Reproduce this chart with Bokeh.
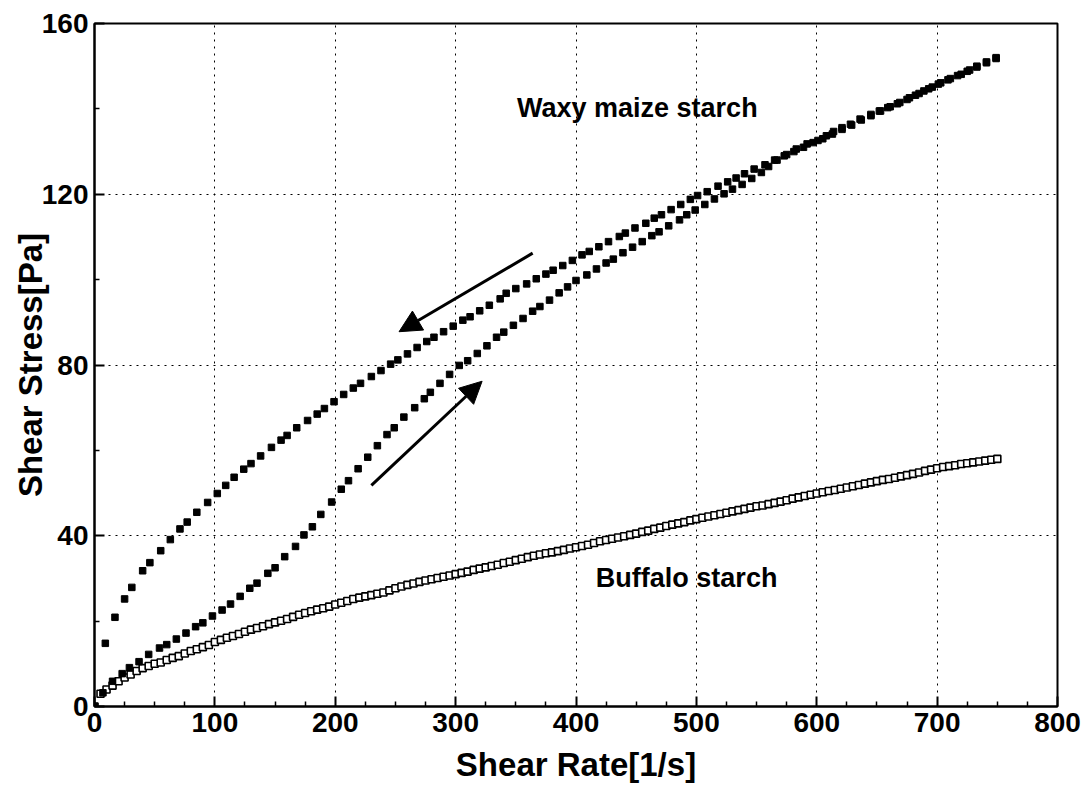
from bokeh.plotting import figure
from bokeh.models import Range1d, Arrow, NormalHead, Label, FixedTicker, ColumnDataSource
from bokeh.embed import file_html
from bokeh.resources import INLINE

FONT = "Liberation Sans"

# ---- data ----
buffalo_rate = [0, 5, 10, 15, 20, 25, 30, 35, 40, 45, 50, 55, 60, 65, 70, 75, 80, 85, 90, 95,
                100, 105, 110, 115, 120, 125, 130, 135, 140, 145, 150, 155, 160, 165, 170, 175,
                180, 185, 190, 195, 200, 205, 210, 215, 220, 225, 230, 235, 240, 245, 250, 255,
                260, 265, 270, 275, 280, 285, 290, 295, 300, 305, 310, 315, 320, 325, 330, 335,
                340, 345, 350, 355, 360, 365, 370, 375, 380, 385, 390, 395, 400, 405, 410, 415,
                420, 425, 430, 435, 440, 445, 450, 455, 460, 465, 470, 475, 480, 485, 490, 495,
                500, 505, 510, 515, 520, 525, 530, 535, 540, 545, 550, 555, 560, 565, 570, 575,
                580, 585, 590, 595, 600, 605, 610, 615, 620, 625, 630, 635, 640, 645, 650, 655,
                660, 665, 670, 675, 680, 685, 690, 695, 700, 705, 710, 715, 720, 725, 730, 735,
                740, 745, 750]
buffalo_stress = [0.0, 3.0, 4.0, 4.9, 5.9, 6.8, 7.5, 8.3, 9.0, 9.5, 10.0, 10.3, 10.9, 11.4, 11.8,
                  12.4, 13.0, 13.4, 13.9, 14.4, 15.1, 15.6, 16.1, 16.5, 17.0, 17.5, 18.0, 18.4,
                  18.8, 19.3, 19.7, 20.1, 20.5, 21.0, 21.5, 21.9, 22.3, 22.7, 23.0, 23.4, 23.9,
                  24.3, 24.7, 25.2, 25.5, 25.8, 26.1, 26.4, 26.7, 27.2, 27.7, 28.1, 28.5, 28.8,
                  29.2, 29.5, 29.8, 30.1, 30.4, 30.7, 31.0, 31.3, 31.6, 32.0, 32.3, 32.6, 32.9,
                  33.2, 33.6, 33.9, 34.3, 34.6, 35.0, 35.3, 35.6, 35.9, 36.1, 36.4, 36.7, 37.0,
                  37.3, 37.6, 37.9, 38.3, 38.7, 39.0, 39.3, 39.6, 39.9, 40.2, 40.5, 40.9, 41.2,
                  41.6, 41.9, 42.3, 42.6, 42.9, 43.2, 43.6, 43.9, 44.2, 44.5, 44.8, 45.1, 45.4,
                  45.7, 46.0, 46.3, 46.6, 46.9, 47.1, 47.4, 47.7, 48.0, 48.3, 48.7, 49.0, 49.3,
                  49.6, 49.9, 50.2, 50.5, 50.7, 51.0, 51.3, 51.6, 51.9, 52.2, 52.5, 52.8, 53.1,
                  53.3, 53.6, 53.9, 54.2, 54.5, 54.8, 55.2, 55.5, 55.8, 56.1, 56.3, 56.5, 56.8,
                  57.0, 57.2, 57.4, 57.6, 57.8, 58.0]

waxy_up_rate = [0, 7, 15, 23, 29, 37, 45, 54, 60, 68, 76, 84, 90, 98, 106, 113, 121, 129, 135, 144,
                150, 158, 167, 174, 181, 188, 197, 205, 211, 219, 227, 235, 243, 249, 257, 266, 274,
                279, 287, 295, 303, 310, 318, 326, 334, 340, 348, 356, 364, 370, 378, 386, 393, 400,
                409, 417, 425, 431, 439, 447, 455, 463, 469, 477, 486, 492, 499, 507, 515, 523, 530,
                538, 546, 554, 560, 567, 575, 583, 592, 601, 608, 614, 621, 628, 636, 645, 652, 659,
                667, 675, 682, 689, 696, 703, 711, 720, 727, 733, 741, 749]
waxy_up_stress = [0.0, 3.2, 5.9, 7.7, 9.1, 10.5, 12.2, 13.7, 14.5, 15.8, 17.2, 18.7, 19.6, 21.2, 22.6,
                  24.0, 25.8, 27.7, 28.9, 31.2, 32.5, 35.1, 37.5, 40.2, 42.1, 45.0, 47.9, 50.9, 52.9,
                  55.7, 58.4, 61.1, 63.7, 65.3, 67.8, 70.0, 72.1, 73.6, 75.7, 77.8, 79.9, 81.0, 82.7,
                  84.5, 86.5, 87.7, 89.3, 90.9, 92.6, 93.7, 95.2, 96.9, 98.3, 99.8, 101.1, 102.5,
                  103.9, 104.8, 106.3, 107.6, 108.9, 110.3, 111.2, 112.6, 114.0, 115.2, 116.3, 117.6,
                  118.9, 120.1, 121.2, 122.3, 123.7, 125.1, 126.5, 128.0, 129.3, 130.6, 131.8, 132.6,
                  133.7, 134.7, 135.6, 136.4, 137.6, 138.7, 139.5, 140.3, 141.2, 142.2, 143.2, 144.2,
                  145.1, 146.1, 147.1, 148.1, 149.1, 150.0, 151.0, 151.8]

waxy_down_rate = [749, 741, 733, 725, 717, 709, 701, 693, 685, 677, 669, 661, 653, 645, 637, 629, 621,
                  613, 605, 597, 589, 581, 573, 565, 557, 548, 540, 533, 526, 518, 509, 501, 495, 487,
                  479, 471, 465, 458, 449, 441, 436, 427, 419, 411, 405, 397, 389, 381, 375, 367, 359,
                  350, 342, 337, 328, 320, 312, 306, 298, 290, 282, 276, 268, 260, 252, 246, 238, 230,
                  221, 215, 207, 199, 191, 185, 177, 168, 160, 155, 147, 138, 130, 124, 116, 109, 102,
                  94, 85, 77, 71, 63, 55, 46, 40, 31, 25, 17, 9]
waxy_down_stress = [152.0, 150.8, 149.8, 148.8, 147.8, 146.8, 145.8, 144.7, 143.6, 142.6, 141.5, 140.5,
                    139.5, 138.4, 137.4, 136.2, 135.2, 134.1, 133.0, 132.1, 131.0, 130.0, 129.0, 128.0,
                    126.9, 125.9, 124.8, 123.8, 122.9, 121.9, 120.6, 119.7, 118.8, 117.6, 116.4, 115.2,
                    114.4, 113.2, 112.1, 110.9, 110.1, 108.9, 107.7, 106.6, 105.8, 104.5, 103.3, 102.2,
                    101.3, 100.2, 99.0, 97.9, 96.8, 95.5, 94.0, 92.7, 91.3, 90.5, 89.1, 87.8, 86.5, 85.5,
                    84.1, 82.6, 81.2, 80.2, 78.7, 77.3, 75.7, 74.6, 73.1, 71.4, 69.8, 68.5, 67.0, 65.3,
                    63.5, 62.4, 60.7, 58.7, 56.9, 55.6, 53.7, 51.8, 49.9, 47.8, 45.5, 43.2, 41.6, 39.1,
                    36.5, 33.7, 31.8, 27.9, 25.2, 20.9, 14.8]

x_ticks = [0, 100, 200, 300, 400, 500, 600, 700, 800]
y_ticks = [0, 40, 80, 120, 160]
x_title = "Shear Rate[1/s]"
y_title = "Shear Stress[Pa]"
waxy_name = "Waxy maize starch"
buffalo_name = "Buffalo starch"

# ---- figure ----
p = figure(width=1084, height=794, output_backend="svg", toolbar_location=None,
           x_range=Range1d(0, 800), y_range=Range1d(0, 160),
           min_border_left=94, min_border_top=23, min_border_right=27, min_border_bottom=88,
           background_fill_color="white", border_fill_color="white")
p.outline_line_color = "black"
p.outline_line_width = 2

x_minor = [a + (b - a) * k / 4 for a, b in zip(x_ticks[:-1], x_ticks[1:]) for k in (1, 2, 3)]
y_minor = [a + (b - a) / 2 for a, b in zip(y_ticks[:-1], y_ticks[1:])]
p.xaxis.ticker = FixedTicker(ticks=x_ticks, minor_ticks=x_minor)
p.yaxis.ticker = FixedTicker(ticks=y_ticks, minor_ticks=y_minor)
p.xgrid.ticker = FixedTicker(ticks=x_ticks)
p.ygrid.ticker = FixedTicker(ticks=y_ticks)

for ax in (p.xaxis[0], p.yaxis[0]):
    ax.axis_line_color = "black"
    ax.axis_line_width = 2
    ax.major_tick_in = 10
    ax.major_tick_out = 0
    ax.minor_tick_in = 5
    ax.minor_tick_out = 0
    ax.major_tick_line_color = "black"
    ax.major_tick_line_width = 2
    ax.minor_tick_line_color = "black"
    ax.minor_tick_line_width = 1.5
    ax.major_label_text_font = FONT
    ax.major_label_text_font_style = "bold"
    ax.major_label_text_font_size = "28px"
    ax.major_label_text_color = "black"
    ax.axis_label_text_font = FONT
    ax.axis_label_text_font_style = "bold"
    ax.axis_label_text_font_size = "33px"
    ax.axis_label_text_color = "black"

p.xaxis.axis_label = x_title
p.yaxis.axis_label = y_title
p.xaxis.major_label_standoff = 6
p.xaxis.axis_label_standoff = 11
p.yaxis.major_label_standoff = 6
p.yaxis.axis_label_standoff = -10

for g in (p.xgrid[0], p.ygrid[0]):
    g.grid_line_color = "black"
    g.grid_line_width = 1
    g.grid_line_dash = "2 5"

# ---- series ----
buf = ColumnDataSource(dict(x=buffalo_rate, y=buffalo_stress))
up = ColumnDataSource(dict(x=waxy_up_rate, y=waxy_up_stress))
down = ColumnDataSource(dict(x=waxy_down_rate, y=waxy_down_stress))

p.scatter("x", "y", source=buf, marker="square", size=7, fill_color="white",
          line_color="black", line_width=1.6)
p.scatter("x", "y", source=up, marker="square", size=6.5, fill_color="black", line_color="black")
p.scatter("x", "y", source=down, marker="square", size=6.5, fill_color="black", line_color="black")

# ---- annotations ----
p.add_layout(Label(x=351, y=140.1, text=waxy_name, text_font=FONT, text_font_style="bold",
                   text_font_size="27px", text_baseline="middle", text_align="left",
                   text_color="black"))
p.add_layout(Label(x=416.5, y=30.2, text=buffalo_name, text_font=FONT, text_font_style="bold",
                   text_font_size="27px", text_baseline="middle", text_align="left",
                   text_color="black"))

p.add_layout(Arrow(x_start=364, y_start=106.2, x_end=253, y_end=87.8, line_width=3,
                   line_color="black",
                   end=NormalHead(size=22, fill_color="black", line_color="black", line_width=1)))
p.add_layout(Arrow(x_start=230, y_start=51.8, x_end=322, y_end=76.2, line_width=3,
                   line_color="black",
                   end=NormalHead(size=22, fill_color="black", line_color="black", line_width=1)))

open("out.html", "w").write(file_html(p, INLINE))
